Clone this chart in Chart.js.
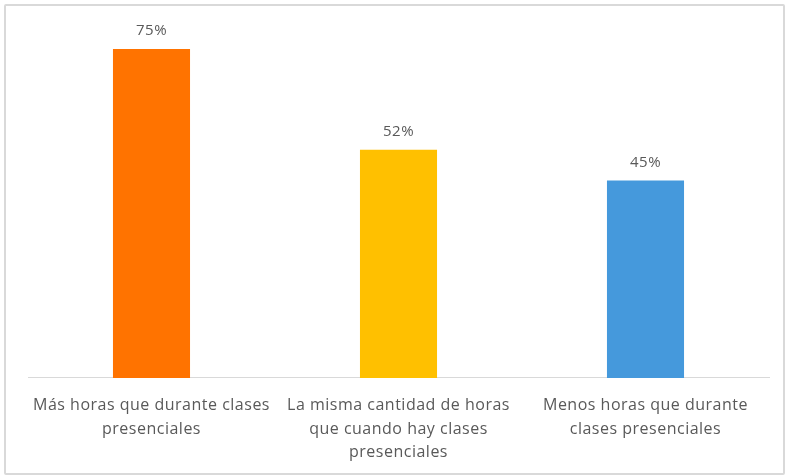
<!DOCTYPE html>
<html>
<head>
<meta charset="utf-8">
<script src="https://cdn.jsdelivr.net/npm/chart.js@4/dist/chart.umd.min.js"></script>
<style>
  body { margin: 0; background: #fff; }
  #wrap {
    position: absolute; left: 4px; top: 4px;
    width: 777px; height: 467px;
    border: 2px solid #d9d9d9; border-radius: 2px;
  }
</style>
</head>
<body>
<div id="wrap"><canvas id="chart"></canvas></div>
<script>
const categories = [
  ['Más horas que durante clases', 'presenciales'],
  ['La misma cantidad de horas', 'que cuando hay clases', 'presenciales'],
  ['Menos horas que durante', 'clases presenciales']
];
const values = [75, 52, 45];
const barColors = ['#ff7300', '#ffc000', '#4599dc'];

// slightly looser text, set before measuring and before drawing
const spacing = {
  id: 'spacing',
  beforeUpdate(chart) { chart.ctx.letterSpacing = '0.5px'; },
  beforeDraw(chart) { chart.ctx.letterSpacing = '0.5px'; }
};

// writes "NN%" above each bar
const valueLabels = {
  id: 'valueLabels',
  afterDatasetsDraw(chart) {
    const ctx = chart.ctx;
    ctx.save();
    ctx.font = '15px "Open Sans"';
    ctx.fillStyle = '#595959';
    ctx.textAlign = 'center';
    ctx.textBaseline = 'middle';
    chart.getDatasetMeta(0).data.forEach((bar, i) => {
      ctx.fillText(values[i] + '%', bar.x, bar.y - 18);
    });
    ctx.restore();
  }
};

new Chart(document.getElementById('chart'), {
  type: 'bar',
  data: {
    labels: categories,
    datasets: [{
      data: values,
      backgroundColor: barColors,
      categoryPercentage: 1,
      barPercentage: 0.312
    }]
  },
  options: {
    responsive: true,
    maintainAspectRatio: false,
    animation: false,
    layout: { padding: { left: 22, right: 14, top: 21, bottom: -7 } },
    plugins: {
      legend: { display: false },
      tooltip: { enabled: false }
    },
    scales: {
      x: {
        grid: { display: false, drawTicks: false },
        border: { color: '#d9d9d9', width: 1 },
        ticks: {
          color: '#595959',
          font: { family: 'Open Sans', size: 16, lineHeight: 1.46 },
          padding: 16,
          maxRotation: 0,
          autoSkip: false
        }
      },
      y: {
        display: false,
        min: 0,
        max: 80
      }
    }
  },
  plugins: [spacing, valueLabels]
});
</script>
</body>
</html>
